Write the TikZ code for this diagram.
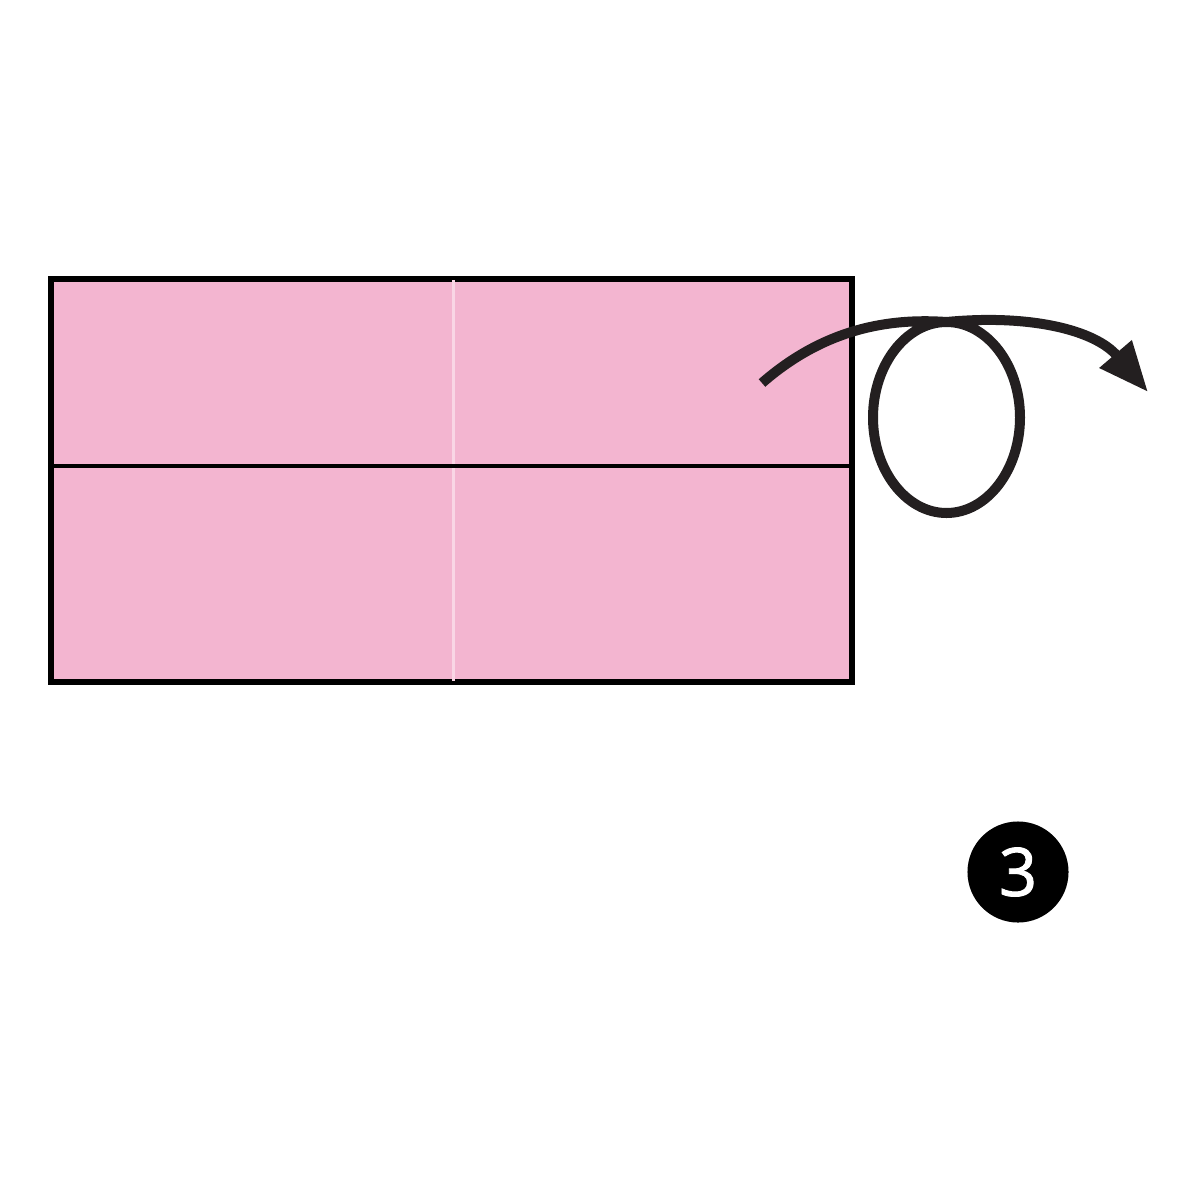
\documentclass[tikz,border=0pt]{standalone}
\usepackage{fontspec}
\setsansfont{Open Sans}
\newfontfamily\stepfont[FakeBold=1.4]{Open Sans}
\usepackage{tikz}
\usepackage{xcolor}
\definecolor{paper_pink}{HTML}{F3B5D0}
\definecolor{crease_pink}{HTML}{F9D6E5}
\definecolor{ink_black}{HTML}{231F20}
\usetikzlibrary{positioning,calc,arrows.meta}
\tikzset{PAPER/.style={rectangle,draw=black,line width=0.035cm,fill=paper_pink,inner sep=0pt}}
\tikzset{FOLD/.style={line width=0.035cm,draw=black}}
\tikzset{CREASE/.style={line width=0.03cm,draw=crease_pink}}
\tikzset{ARROW/.style={line width=0.1cm,draw=ink_black,-{Triangle[length=0.5cm,width=0.4cm]}}}
\tikzset{STEPNUM/.style={circle,fill=black,minimum size=1.01cm,inner sep=0pt,text=white,font=\stepfont\fontsize{19}{21}\selectfont}}

\begin{document}
\begin{tikzpicture}[x=0.01cm,y=-0.01cm]
\useasboundingbox (0,0) rectangle (1200,1200);

\node[PAPER, minimum width=7.99cm, minimum height=4.01cm] (n_paper) at (451.5,480.5) {};

\coordinate (c_crease_top) at (453,280);
\draw[CREASE] (c_crease_top) -- (c_crease_top |- n_paper.south);

\coordinate (c_fold_left) at (52,466);
\draw[FOLD] (c_fold_left) -- (c_fold_left -| n_paper.east);
\draw[FOLD] (n_paper.north west) rectangle (n_paper.south east);

% turn over arrow with loop
\coordinate (c_arrow_start) at (762,383);
\coordinate (c_loop_top) at (946.5,322);
\coordinate (c_loop_right) at (1020,417.5);
\coordinate (c_loop_bottom) at (946.5,513);
\coordinate (c_loop_left) at (873,417.5);
\coordinate (c_arrow_end) at (1148,392);
\draw[ARROW] (c_arrow_start) .. controls (825,328) and (890,318) .. (c_loop_top)
    .. controls (987,322) and (1020,365) .. (c_loop_right)
    .. controls (1020,470) and (987,513) .. (c_loop_bottom)
    .. controls (906,513) and (873,470) .. (c_loop_left)
    .. controls (873,365) and (906,322) .. (c_loop_top)
    .. controls (1030,314) and (1095,330) .. (c_arrow_end);

\node[STEPNUM] (n_step) at (1018,872) {3};

\end{tikzpicture}
\end{document}
